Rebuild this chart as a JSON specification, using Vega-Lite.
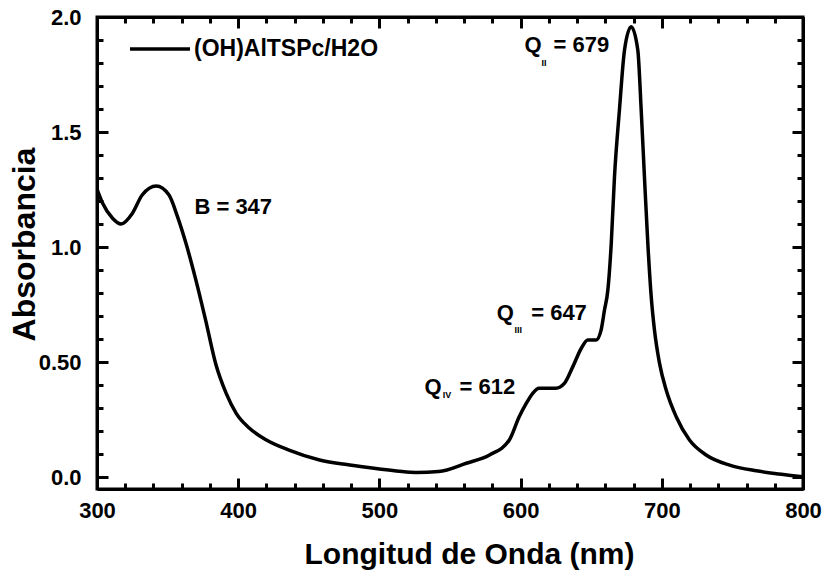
{
  "$schema": "https://vega.github.io/schema/vega-lite/v6.json",
  "width": 706,
  "height": 472,
  "autosize": {"type": "none"},
  "padding": {"left": 97, "top": 17, "right": 22, "bottom": 88},
  "background": "white",
  "config": {
    "view": {"stroke": "black", "strokeWidth": 3},
    "font": "Liberation Sans",
    "axis": {"grid": false, "domain": false, "labelFlush": false, "labelOverlap": false, "labelBound": false, "labelColor": "black", "titleColor": "black", "labelFont": "Liberation Sans", "titleFont": "Liberation Sans", "labelFontWeight": "bold", "titleFontWeight": "bold"}
  },
  "datasets": {
    "spec": [
      {"wl": 300, "abs": 1.252}, {"wl": 304, "abs": 1.19}, {"wl": 311, "abs": 1.125}, {"wl": 317, "abs": 1.1},
      {"wl": 325, "abs": 1.146}, {"wl": 332, "abs": 1.226}, {"wl": 342, "abs": 1.265}, {"wl": 351, "abs": 1.226},
      {"wl": 357, "abs": 1.132}, {"wl": 363, "abs": 1.016}, {"wl": 370, "abs": 0.857}, {"wl": 377, "abs": 0.68},
      {"wl": 384, "abs": 0.494}, {"wl": 391.5, "abs": 0.364}, {"wl": 398.6, "abs": 0.277}, {"wl": 408, "abs": 0.212},
      {"wl": 420, "abs": 0.161}, {"wl": 436, "abs": 0.117}, {"wl": 457.6, "abs": 0.074}, {"wl": 479, "abs": 0.052},
      {"wl": 500, "abs": 0.035}, {"wl": 514, "abs": 0.025}, {"wl": 526, "abs": 0.02}, {"wl": 542, "abs": 0.024},
      {"wl": 561.5, "abs": 0.06}, {"wl": 578, "abs": 0.096}, {"wl": 592, "abs": 0.161}, {"wl": 599, "abs": 0.262},
      {"wl": 604, "abs": 0.32}, {"wl": 608.6, "abs": 0.364}, {"wl": 613, "abs": 0.386}, {"wl": 625, "abs": 0.386},
      {"wl": 631, "abs": 0.407}, {"wl": 637, "abs": 0.48}, {"wl": 643, "abs": 0.56}, {"wl": 647.6, "abs": 0.596},
      {"wl": 653.5, "abs": 0.596}, {"wl": 657, "abs": 0.639}, {"wl": 659.4, "abs": 0.726}, {"wl": 661.8, "abs": 0.813},
      {"wl": 664.2, "abs": 1.016}, {"wl": 666.5, "abs": 1.306}, {"wl": 670, "abs": 1.596}, {"wl": 673.6, "abs": 1.857},
      {"wl": 678.3, "abs": 1.958}, {"wl": 683, "abs": 1.857}, {"wl": 685.4, "abs": 1.596}, {"wl": 687.7, "abs": 1.306},
      {"wl": 690.1, "abs": 1.016}, {"wl": 692.5, "abs": 0.784}, {"wl": 694.8, "abs": 0.639}, {"wl": 698.4, "abs": 0.494},
      {"wl": 703.1, "abs": 0.378}, {"wl": 710.2, "abs": 0.262}, {"wl": 719.6, "abs": 0.161}, {"wl": 731.4, "abs": 0.096},
      {"wl": 748, "abs": 0.052}, {"wl": 767, "abs": 0.027}, {"wl": 783, "abs": 0.013}, {"wl": 800, "abs": 0.001}
    ],
    "ann": [
      {"wl": 369, "abs": 1.172, "t": "B = 347"},
      {"wl": 602.8, "abs": 1.88, "t": "Q"},
      {"wl": 623.3, "abs": 1.88, "t": "= 679"},
      {"wl": 583.1, "abs": 0.714, "t": "Q"},
      {"wl": 607.5, "abs": 0.714, "t": "= 647"},
      {"wl": 531.9, "abs": 0.393, "t": "Q"},
      {"wl": 556.7, "abs": 0.393, "t": "= 612"}
    ],
    "sub": [
      {"wl": 614.8, "abs": 1.8, "t": "II"},
      {"wl": 595.7, "abs": 0.64, "t": "III"},
      {"wl": 544.9, "abs": 0.355, "t": "IV"}
    ]
  },
  "data": {"name": "spec"},
  "resolve": {"axis": {"x": "independent", "y": "independent"}},
  "layer": [
    {
      "mark": {"type": "line", "strokeWidth": 3.5, "interpolate": "monotone", "clip": true, "color": "black"},
      "encoding": {
        "x": {"field": "wl", "type": "quantitative", "scale": {"domain": [300, 800], "nice": false, "zero": false},
          "axis": {"orient": "bottom", "values": [300, 400, 500, 600, 700, 800], "ticks": true, "tickColor": "black", "tickSize": -11, "tickWidth": 3, "labelFontSize": 22, "labelPadding": 22, "title": "Longitud de Onda (nm)", "titleFontSize": 30, "titlePadding": 18, "titleX": 372, "titleAlign": "center"}},
        "y": {"field": "abs", "type": "quantitative", "scale": {"domain": [-0.052, 2.0], "nice": false, "zero": false},
          "axis": {"orient": "left", "values": [0, 0.5, 1, 1.5, 2], "labelExpr": "datum.value == 0.5 ? '0.50' : format(datum.value, '.1f')", "ticks": true, "tickColor": "black", "tickSize": -11, "tickWidth": 3, "labelFontSize": 22, "labelPadding": 27, "title": "Absorbancia", "titleFontSize": 32, "titlePadding": -3, "titleY": 227, "titleAlign": "center"}},
        "color": {"datum": "(OH)AlTSPc/H2O", "type": "nominal", "scale": {"range": ["black"]},
          "legend": {"orient": "none", "legendX": 31, "legendY": 0, "title": null, "symbolType": "stroke", "symbolSize": 3600, "symbolStrokeWidth": 3.5, "symbolStrokeColor": "black", "labelFont": "Liberation Sans", "labelFontWeight": "bold", "labelFontSize": 23, "labelColor": "black", "labelOffset": 2, "padding": 0, "labelLimit": 400}}
      }
    },
    {
      "mark": {"type": "point", "opacity": 0},
      "encoding": {
        "x": {"field": "wl", "type": "quantitative", "axis": {"orient": "bottom", "values": [320, 340, 360, 380, 420, 440, 460, 480, 520, 540, 560, 580, 620, 640, 660, 680, 720, 740, 760, 780], "labels": false, "title": " ", "ticks": true, "tickColor": "black", "tickSize": -6, "tickWidth": 3, "domain": true, "domainColor": "black", "domainWidth": 3}},
        "y": {"field": "abs", "type": "quantitative", "axis": {"orient": "left", "values": [0.1, 0.2, 0.3, 0.4, 0.6, 0.7, 0.8, 0.9, 1.1, 1.2, 1.3, 1.4, 1.6, 1.7, 1.8, 1.9], "labels": false, "title": " ", "ticks": true, "tickColor": "black", "tickSize": -6, "tickWidth": 3, "domain": true, "domainColor": "black", "domainWidth": 3}}
      }
    },
    {
      "mark": {"type": "point", "opacity": 0},
      "encoding": {
        "x": {"field": "wl", "type": "quantitative", "axis": {"orient": "top", "values": [300, 400, 500, 600, 700, 800], "labels": false, "title": " ", "ticks": true, "tickColor": "black", "tickSize": -11, "tickWidth": 3, "domain": true, "domainColor": "black", "domainWidth": 3}},
        "y": {"field": "abs", "type": "quantitative", "axis": {"orient": "right", "values": [0, 0.5, 1, 1.5, 2], "labels": false, "title": " ", "ticks": true, "tickColor": "black", "tickSize": -11, "tickWidth": 3, "domain": true, "domainColor": "black", "domainWidth": 3}}
      }
    },
    {
      "mark": {"type": "point", "opacity": 0},
      "encoding": {
        "x": {"field": "wl", "type": "quantitative", "axis": {"orient": "top", "values": [320, 340, 360, 380, 420, 440, 460, 480, 520, 540, 560, 580, 620, 640, 660, 680, 720, 740, 760, 780], "labels": false, "title": " ", "ticks": true, "tickColor": "black", "tickSize": -6, "tickWidth": 3, "domain": true, "domainColor": "black", "domainWidth": 3}},
        "y": {"field": "abs", "type": "quantitative", "axis": {"orient": "right", "values": [0.1, 0.2, 0.3, 0.4, 0.6, 0.7, 0.8, 0.9, 1.1, 1.2, 1.3, 1.4, 1.6, 1.7, 1.8, 1.9], "labels": false, "title": " ", "ticks": true, "tickColor": "black", "tickSize": -6, "tickWidth": 3, "domain": true, "domainColor": "black", "domainWidth": 3}}
      }
    },
    {
      "data": {"name": "ann"},
      "mark": {"type": "text", "align": "left", "baseline": "middle", "font": "Liberation Sans", "fontWeight": "bold", "fontSize": 22, "color": "black"},
      "encoding": {
        "x": {"field": "wl", "type": "quantitative", "axis": null},
        "y": {"field": "abs", "type": "quantitative", "axis": null},
        "text": {"field": "t"}
      }
    },
    {
      "data": {"name": "sub"},
      "mark": {"type": "text", "align": "left", "baseline": "middle", "font": "Liberation Sans", "fontWeight": "bold", "fontSize": 9, "color": "black"},
      "encoding": {
        "x": {"field": "wl", "type": "quantitative", "axis": null},
        "y": {"field": "abs", "type": "quantitative", "axis": null},
        "text": {"field": "t"}
      }
    }
  ]
}
